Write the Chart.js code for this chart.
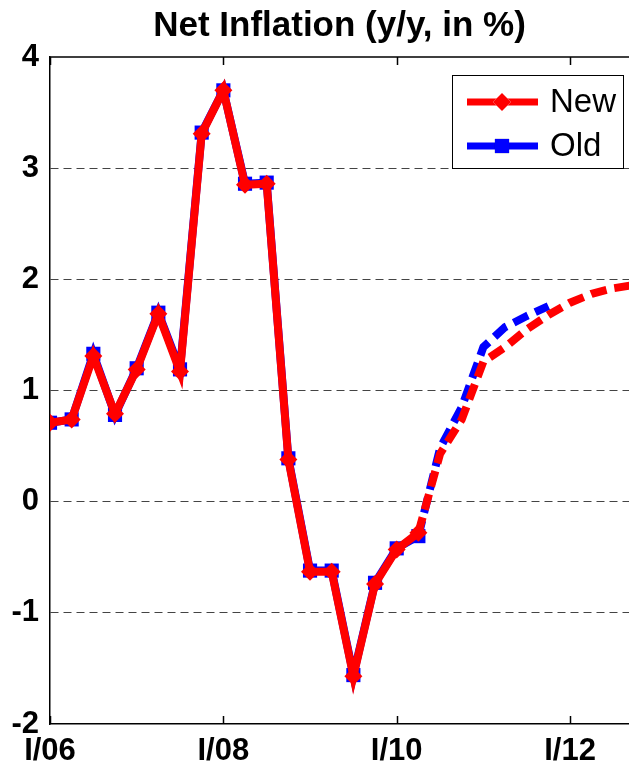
<!DOCTYPE html>
<html>
<head>
<meta charset="utf-8">
<title>Net Inflation</title>
<script src="https://cdn.jsdelivr.net/npm/chart.js@4/dist/chart.umd.min.js"></script>
<style>
  body { margin: 0; background: #fff; overflow: hidden; }
  #wrap { width: 629px; height: 765px; }
</style>
</head>
<body>
<div id="wrap"><canvas id="inflChart" width="629" height="765"></canvas></div>
<script>
// quarters, index 0 = I/06
const xTickPos = [0, 8, 16, 24];
const xTickLabels = ["I/06", "I/08", "I/10", "I/12"];
const yTicks = [-2, -1, 0, 1, 2, 3, 4];

// history (I/06 .. II/10), with markers
const newHist = [0.71, 0.74, 1.31, 0.79, 1.19, 1.69, 1.17, 3.31, 3.70, 2.85, 2.86, 0.38, -0.63, -0.63, -1.57, -0.74, -0.43, -0.28];
const oldHist = [0.71, 0.74, 1.33, 0.78, 1.20, 1.70, 1.19, 3.32, 3.70, 2.86, 2.87, 0.39, -0.62, -0.62, -1.56, -0.73, -0.42, -0.31];
// forecasts start at the last history quarter (index 17)
const fcstStart = 17;
const newFcst = [-0.28, 0.43, 0.74, 1.26, 1.39, 1.55, 1.68, 1.79, 1.87, 1.92, 1.95];
const oldFcst = [-0.31, 0.48, 0.85, 1.39, 1.57, 1.67, 1.76];

const FONT = "'Liberation Sans', Arial, Helvetica, sans-serif";
const RED = "#ff0000";
const BLUE = "#0000ff";

function toXY(values, start) {
  return values.map((v, i) => ({ x: start + i, y: v }));
}

// box top line + inward tick marks like the original figure
const framePlugin = {
  id: "frame",
  afterDraw(chart) {
    const { ctx, chartArea: a, scales } = chart;
    ctx.save();
    ctx.strokeStyle = "#000";
    ctx.lineWidth = 1.5;
    ctx.beginPath();
    ctx.moveTo(a.left, a.top);
    ctx.lineTo(a.right, a.top);
    xTickPos.forEach(v => {
      const px = Math.round(scales.x.getPixelForValue(v)) + 0.5;
      ctx.moveTo(px, a.bottom);
      ctx.lineTo(px, a.bottom - 8);
      ctx.moveTo(px, a.top);
      ctx.lineTo(px, a.top + 8);
    });
    ctx.stroke();
    ctx.restore();
  }
};

// legend box in the upper right corner of the plot
const boxLegend = {
  id: "boxLegend",
  afterDraw(chart) {
    const { ctx, chartArea: a } = chart;
    const items = chart.data.datasets.filter(d => d.label);
    const w = 171, h = 93;
    const x0 = a.right - 6 - w, y0 = a.top + 18;
    ctx.save();
    ctx.fillStyle = "#fff";
    ctx.fillRect(x0, y0, w, h);
    ctx.strokeStyle = "#000";
    ctx.lineWidth = 1;
    ctx.strokeRect(x0 + 0.5, y0 + 0.5, w, h);
    items.forEach((d, i) => {
      const cy = y0 + 27 + i * 44;
      ctx.strokeStyle = d.borderColor;
      ctx.lineWidth = 7;
      ctx.beginPath();
      ctx.moveTo(x0 + 15, cy);
      ctx.lineTo(x0 + 86, cy);
      ctx.stroke();
      Chart.helpers.drawPoint(ctx, {
        pointStyle: d.pointStyle,
        radius: d.pointRadius,
        borderWidth: 0,
        rotation: 0
      }, x0 + 50, cy);
      ctx.fillStyle = d.borderColor;
      ctx.fill();
      ctx.fillStyle = "#000";
      ctx.font = "33px " + FONT;
      ctx.textBaseline = "middle";
      ctx.fillText(d.label, x0 + 98, cy + 1);
    });
    ctx.restore();
  }
};

new Chart(document.getElementById("inflChart"), {
  type: "line",
  data: {
    datasets: [
      { label: "New", data: toXY(newHist, 0), borderColor: RED, backgroundColor: RED,
        borderWidth: 8, pointStyle: "rectRot", pointRadius: 9, pointBorderWidth: 0, tension: 0 },
      { data: toXY(newFcst, fcstStart), borderColor: RED, borderWidth: 8,
        borderDash: [16, 8], pointRadius: 0, tension: 0 },
      { label: "Old", data: toXY(oldHist, 0), borderColor: BLUE, backgroundColor: BLUE,
        borderWidth: 8, pointStyle: "rect", pointRadius: 10, pointBorderWidth: 0, tension: 0 },
      { data: toXY(oldFcst, fcstStart), borderColor: BLUE, borderWidth: 8,
        borderDash: [16, 8], pointRadius: 0, tension: 0 }
    ]
  },
  options: {
    responsive: false,
    animation: false,
    layout: { padding: 0, autoPadding: false },
    plugins: {
      legend: { display: false },
      tooltip: { enabled: false },
      title: {
        display: true,
        fullSize: false,
        text: "Net Inflation (y/y, in %)",
        color: "#000",
        font: { family: FONT, size: 35, weight: "bold" },
        padding: { top: 5, bottom: 10 }
      }
    },
    scales: {
      x: {
        type: "linear",
        min: 0,
        max: 26.72,
        afterFit: s => { s.height = 41; s.paddingLeft = 0; s.paddingRight = 0; },
        afterBuildTicks: s => { s.ticks = xTickPos.map(v => ({ value: v })); },
        grid: { display: false, drawTicks: false },
        border: { display: true, color: "#000", width: 1.5 },
        ticks: {
          color: "#000",
          padding: 9,
          maxRotation: 0,
          autoSkip: false,
          font: { family: FONT, size: 31, weight: "bold" },
          callback: v => xTickLabels[xTickPos.indexOf(v)]
        }
      },
      y: {
        min: -2,
        max: 4,
        afterFit: s => { s.width = 50; },
        afterBuildTicks: s => { s.ticks = yTicks.map(v => ({ value: v })); },
        grid: {
          drawTicks: false,
          lineWidth: 1,
          color: c => (c.tick && (c.tick.value === 4 || c.tick.value === -2)) ? "rgba(0,0,0,0)" : "#444"
        },
        border: { display: true, color: "#000", width: 1.5, dash: [8, 5] },
        ticks: {
          color: "#000",
          padding: 11,
          font: { family: FONT, size: 31, weight: "bold" }
        }
      }
    }
  },
  plugins: [framePlugin, boxLegend]
});
</script>
</body>
</html>
